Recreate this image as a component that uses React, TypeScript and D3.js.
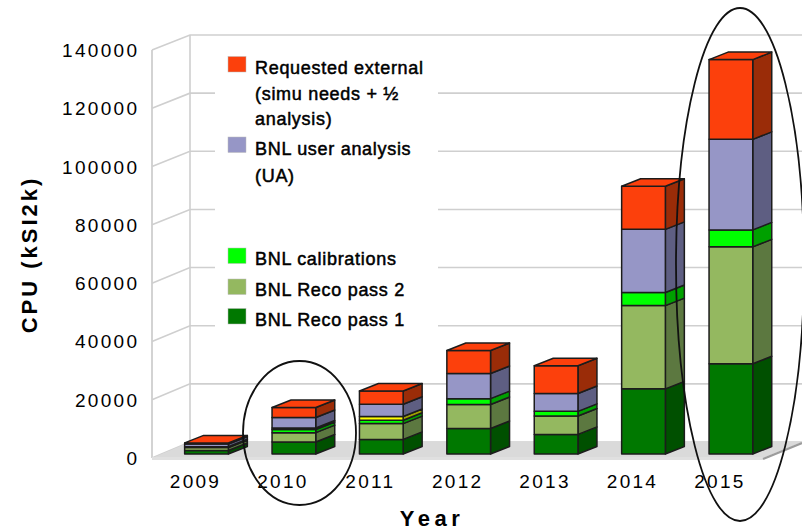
import React from "react";
import * as d3 from "d3";

const years = ["2009", "2010", "2011", "2012", "2013", "2014", "2015"];
const recoPass1 = [1200, 4100, 5000, 8750, 6700, 22300, 30900];
const recoPass2 = [1000, 3200, 5400, 8200, 6300, 28500, 40000];
const calibrations = [200, 1100, 1150, 2000, 1600, 4500, 5800];
const unlabelled = [100, 500, 1300, 0, 0, 0, 0];
const userAnalysis = [900, 3600, 4200, 8600, 6100, 21600, 31000];
const requestedExternal = [400, 3400, 4500, 7900, 9500, 14750, 27300];

const yTicks = [0, 20000, 40000, 60000, 80000, 100000, 120000, 140000];

const seriesKeys = ["p1", "p2", "cal", "yel", "ua", "ext"];
const seriesValues: Record<string, number[]> = {
  p1: recoPass1,
  p2: recoPass2,
  cal: calibrations,
  yel: unlabelled,
  ua: userAnalysis,
  ext: requestedExternal,
};
const frontColor: Record<string, string> = {
  p1: "#007800",
  p2: "#94b860",
  cal: "#00ff00",
  yel: "#ffff00",
  ua: "#9696c6",
  ext: "#fc400c",
};
const sideColor: Record<string, string> = {
  p1: "#005000",
  p2: "#5c7840",
  cal: "#00a000",
  yel: "#a0a000",
  ua: "#5e5e82",
  ext: "#9a2c08",
};

const legendSwatches = [
  { key: "ext", y: 56.5 },
  { key: "ua", y: 137 },
  { key: "cal", y: 248 },
  { key: "p2", y: 279 },
  { key: "p1", y: 308.5 },
];
const legendLines = [
  { text: "Requested external", y: 74 },
  { text: "(simu needs + ½", y: 100 },
  { text: "analysis)", y: 125 },
  { text: "BNL user analysis", y: 155 },
  { text: "(UA)", y: 181.5 },
  { text: "BNL calibrations", y: 265 },
  { text: "BNL Reco pass 2", y: 296 },
  { text: "BNL Reco pass 1", y: 326 },
];

const FONT = "'Liberation Sans', Arial, sans-serif";
const DEPTH_X = 19;
const DEPTH_Y = -7.5;
const WALL_L = 152;
const WALL_B = 190;
const RIGHT = 802;

const x = d3.scaleBand<string>().domain(years).range([162.8, 774.6]).paddingInner(0.5).paddingOuter(0.25);
const y = d3.scaleLinear().domain([0, 140000]).range([454, 45]);
const yWallFront = d3.scaleLinear().domain([0, 140000]).range([458, 50]);
const yWallBack = d3.scaleLinear().domain([0, 140000]).range([442, 35]);

const rows = years.map((year, i) => {
  const row: Record<string, number | string> = { year };
  seriesKeys.forEach((k) => (row[k] = seriesValues[k][i]));
  return row;
});
const stacked = d3.stack<Record<string, number | string>>().keys(seriesKeys)(rows as any);

const line = d3.line();

export default function App() {
  const w = x.bandwidth();
  return (
    <svg
      width={802}
      height={528}
      style={{ position: "absolute", left: 0, top: 0, background: "#fff" }}
      fontFamily={FONT}
    >
      {/* left wall and back wall grid */}
      {yTicks.map((t) => (
        <path
          key={t}
          d={
            line([
              [WALL_L, yWallFront(t)],
              [WALL_B, yWallBack(t)],
              [RIGHT, yWallBack(t)],
            ]) as string
          }
          fill="none"
          stroke="#cfcfcf"
          strokeWidth={1.6}
        />
      ))}
      <line x1={WALL_L} x2={WALL_L} y1={yWallFront(140000)} y2={yWallFront(0)} stroke="#cfcfcf" strokeWidth={1.8} />
      <line x1={WALL_B} x2={WALL_B} y1={yWallBack(140000)} y2={yWallBack(0)} stroke="#cfcfcf" strokeWidth={1.6} />

      {/* legend backing interrupts the grid */}
      <rect x={215} y={45} width={223} height={295} fill="#fff" />

      {/* floor */}
      <polygon
        points={[
          [WALL_L, yWallFront(0)],
          [WALL_B, yWallBack(0)],
          [RIGHT, yWallBack(0)],
          [RIGHT - 39, yWallFront(0)],
        ].join(" ")}
        fill="#dadada"
      />
      <rect x={WALL_L} y={yWallFront(0) - 1} width={RIGHT - 39 - WALL_L} height={3} fill="#e0e0e0" />
      <line x1={RIGHT - 39} y1={459} x2={RIGHT} y2={443} stroke="#9c9c9c" strokeWidth={2.4} />

      {/* stacked bars */}
      {years.map((year, i) => {
        const x0 = x(year) as number;
        const x1 = x0 + w;
        const top = y(stacked[stacked.length - 1][i][1]);
        return (
          <g key={year} stroke="#1c1c1c" strokeWidth={1.5} strokeLinejoin="round">
            {stacked.map((s) => {
              const k = s.key;
              const yb = y(s[i][0]);
              const yt = y(s[i][1]);
              if (s[i][1] === s[i][0]) return null;
              return (
                <g key={k}>
                  <polygon
                    points={[
                      [x1, yb],
                      [x1 + DEPTH_X, yb + DEPTH_Y],
                      [x1 + DEPTH_X, yt + DEPTH_Y],
                      [x1, yt],
                    ].join(" ")}
                    fill={sideColor[k]}
                  />
                  <rect x={x0} y={yt} width={w} height={yb - yt} fill={frontColor[k]} />
                </g>
              );
            })}
            <polygon
              points={[
                [x0, top],
                [x0 + DEPTH_X, top + DEPTH_Y],
                [x1 + DEPTH_X, top + DEPTH_Y],
                [x1, top],
              ].join(" ")}
              fill={frontColor.ext}
            />
          </g>
        );
      })}

      {/* legend */}
      {legendSwatches.map((s) => (
        <rect key={s.key} x={228} y={s.y} width={18} height={15.5} fill={frontColor[s.key]} stroke="#bbb" strokeWidth={0.5} />
      ))}
      {legendLines.map((l) => (
        <text key={l.text} x={255} y={l.y} fontSize={18} fill="#000" stroke="#000" strokeWidth={0.5} letterSpacing={0.7}>
          {l.text}
        </text>
      ))}

      {/* y axis */}
      {yTicks.map((t) => (
        <text
          key={t}
          x={139.3}
          y={yWallFront(t) + 7}
          textAnchor="end"
          fontSize={19}
          letterSpacing={2.3}
          fill="#000"
        >
          {t}
        </text>
      ))}
      <text
        transform="translate(37,254.5) rotate(-90)"
        textAnchor="middle"
        fontSize={22}
        fontWeight="bold"
        letterSpacing={3}
        fill="#000"
      >
        CPU (kSI2k)
      </text>

      {/* x axis */}
      {years.map((year) => (
        <text
          key={year}
          x={(x(year) as number) + w / 2 - 11}
          y={488}
          textAnchor="middle"
          fontSize={19}
          letterSpacing={2.3}
          fill="#000"
        >
          {year}
        </text>
      ))}
      <text x={432} y={525.5} textAnchor="middle" fontSize={22} fontWeight="bold" letterSpacing={4.5} fill="#000">
        Year
      </text>

      {/* highlighted years */}
      <ellipse cx={299.5} cy={433} rx={56.5} ry={72} fill="none" stroke="#111" strokeWidth={1.8} />
      <ellipse cx={740} cy={264.5} rx={64} ry={256.5} fill="none" stroke="#111" strokeWidth={1.8} />
    </svg>
  );
}
